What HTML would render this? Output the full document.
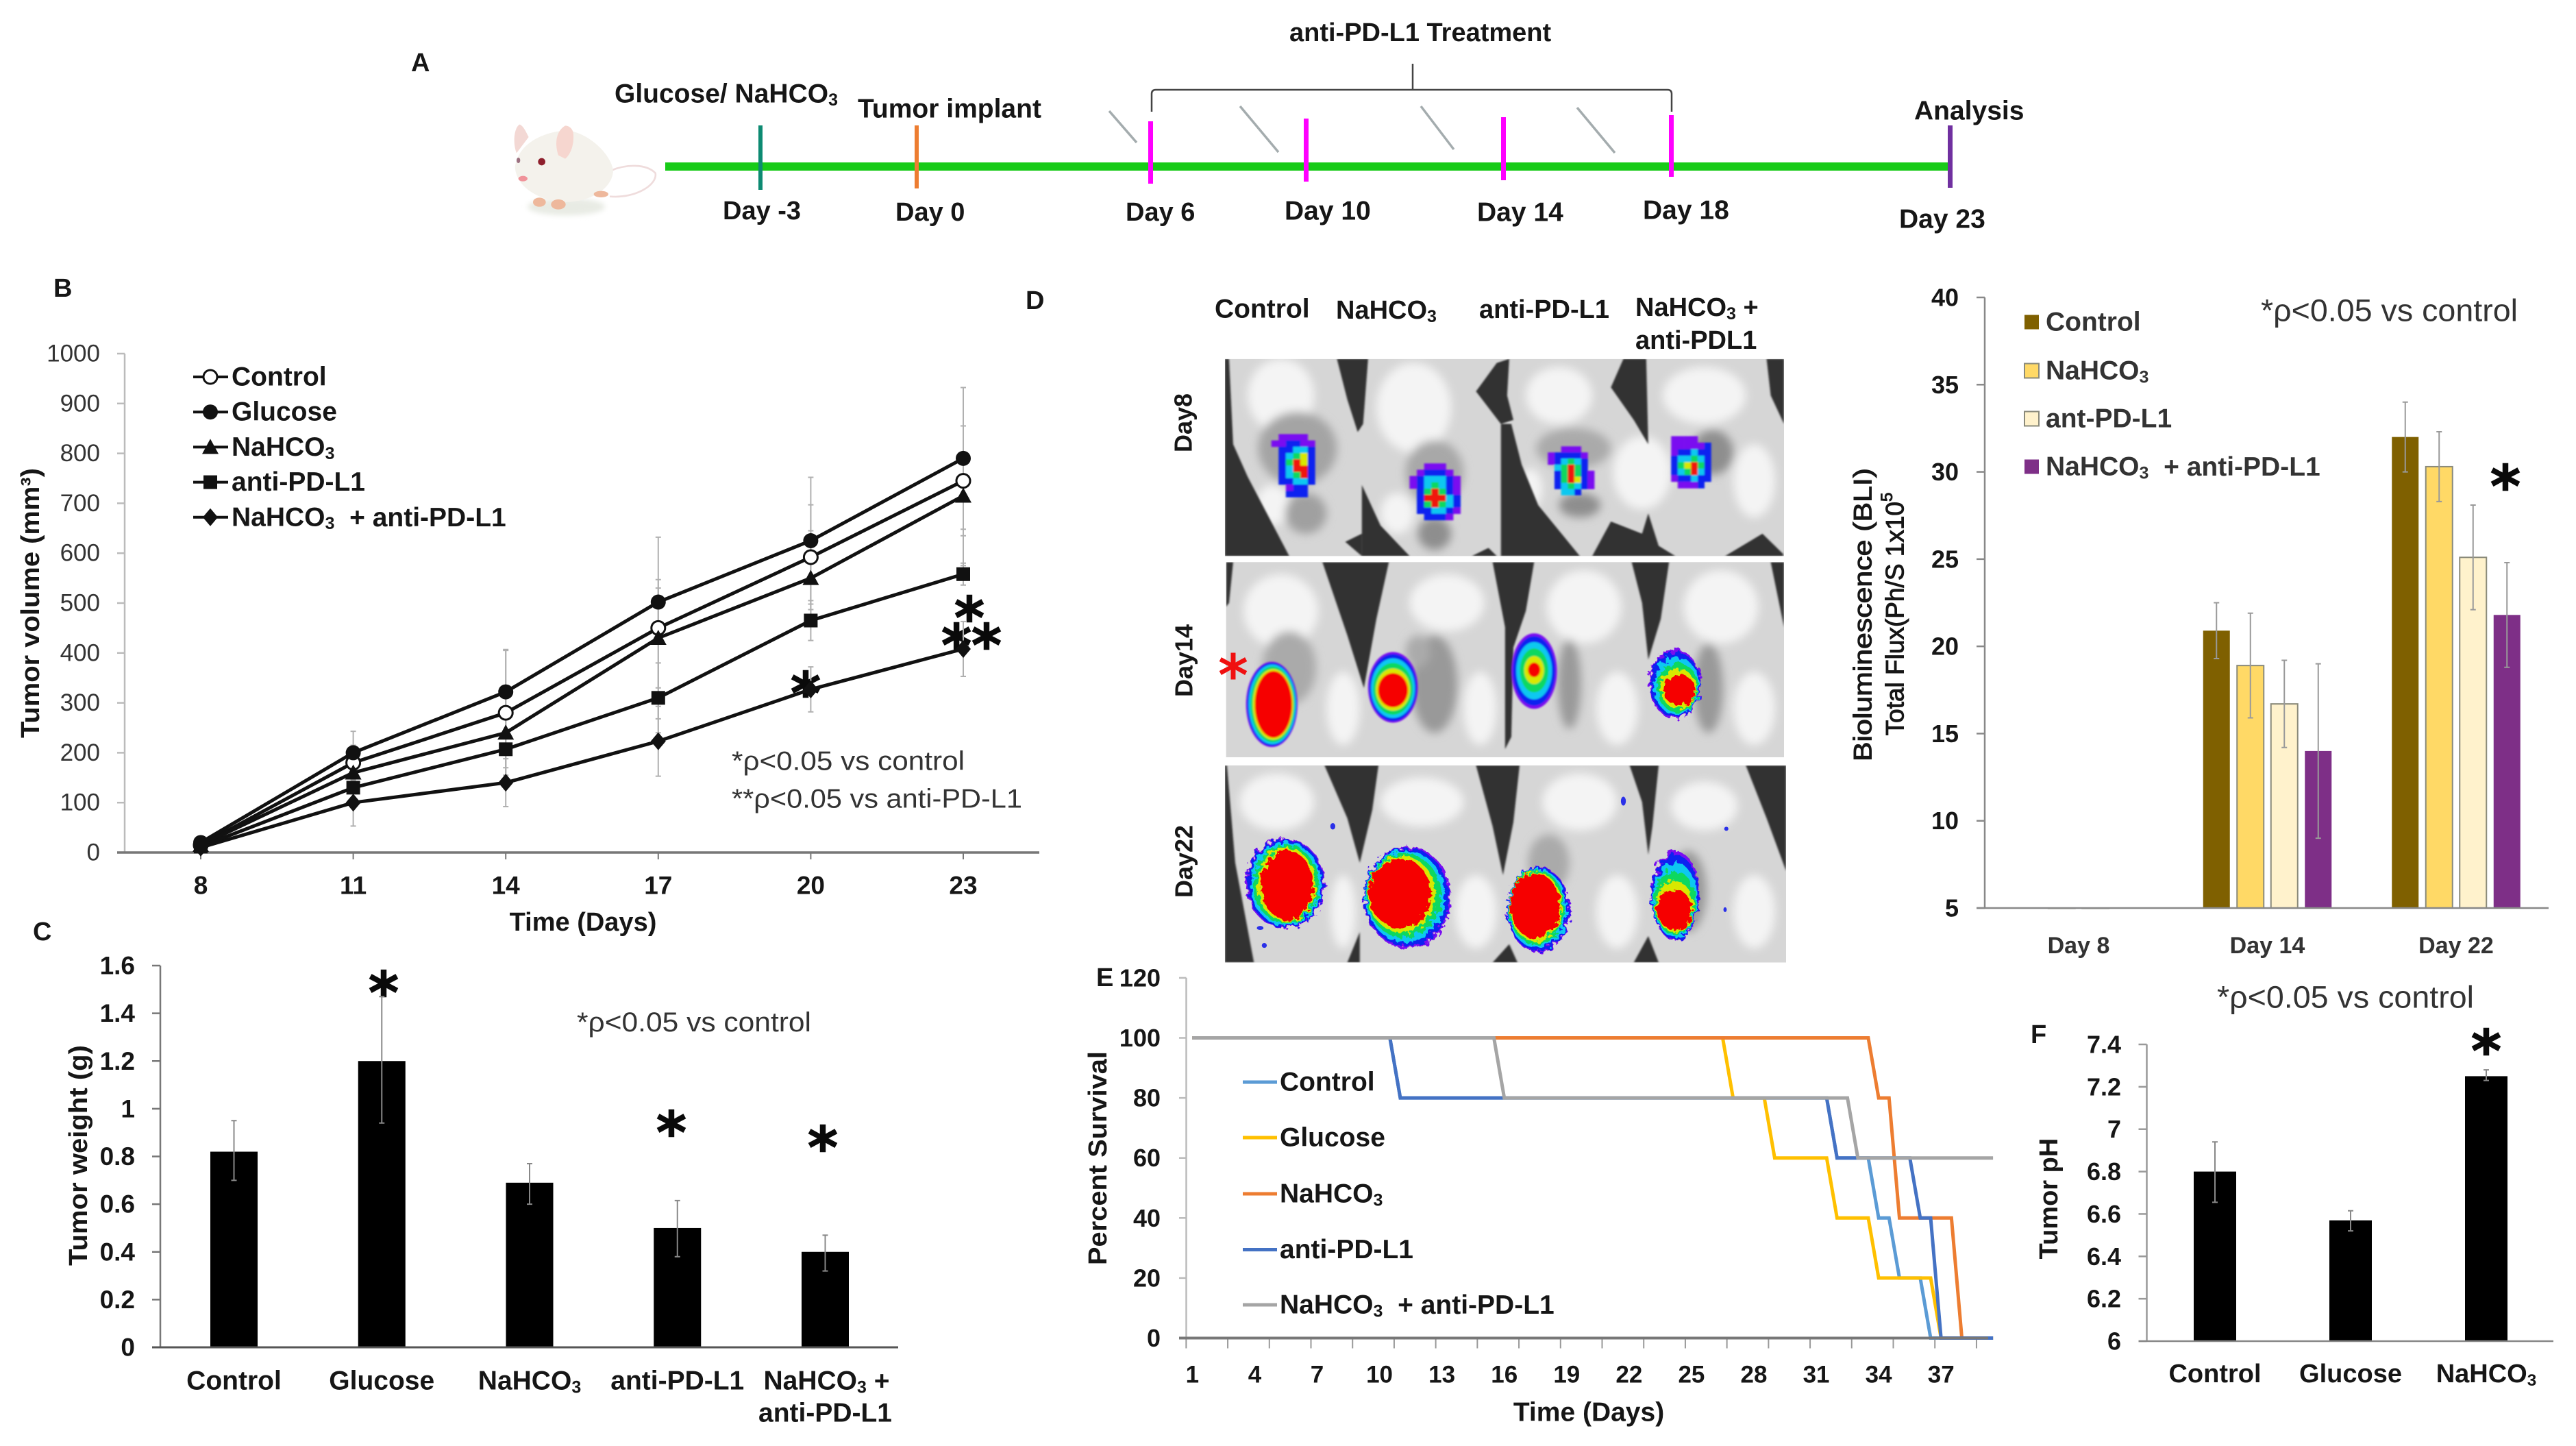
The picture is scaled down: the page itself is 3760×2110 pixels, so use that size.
<!DOCTYPE html>
<html lang="en">
<head>
<meta charset="utf-8">
<title>Tumor study figure</title>
<style>
html,body{margin:0;padding:0;background:#fff;width:3760px;height:2110px;overflow:hidden}
svg{display:block;font-family:"Liberation Sans",sans-serif}
text{dominant-baseline:central}
.b{font-weight:700;fill:#161616}
.n{fill:#333}
.star{font-family:"DejaVu Sans","Liberation Sans",sans-serif;font-weight:700;fill:#0a0a0a;stroke:#0a0a0a;stroke-width:1.5;font-size:84px;text-anchor:middle}
</style>
</head>
<body>
<svg id="fig" xmlns="http://www.w3.org/2000/svg" width="3760" height="2110" viewBox="0 0 3760 2110">
<defs>
<filter id="soft" x="-30%" y="-30%" width="160%" height="160%"><feGaussianBlur stdDeviation="11"/></filter>
<filter id="soft2" x="-20%" y="-20%" width="140%" height="140%"><feGaussianBlur stdDeviation="2"/></filter>
<filter id="rough" x="-20%" y="-20%" width="140%" height="140%"><feTurbulence type="fractalNoise" baseFrequency="0.07" numOctaves="3" seed="4"/><feDisplacementMap in="SourceGraphic" scale="26"/></filter>
<clipPath id="photoClip"><rect x="145" y="40" width="1347" height="485"/><rect x="148" y="540" width="1344" height="480"/><rect x="145" y="1040" width="1352" height="485"/></clipPath>
</defs>
<rect width="3760" height="2110" fill="#fff"/>

<g>
<text class="b" x="600" y="92" font-size="38">A</text>
<g transform="translate(680 130) scale(.3333)">
<ellipse cx="440" cy="515" rx="170" ry="38" fill="#e8ebe4" filter="url(#soft)"/>
<path d="M640 355C700 330 790 325 830 368C840 420 740 480 630 470" fill="none" stroke="#efdcdc" stroke-width="8"/>
<path d="M215 340C230 240 330 190 440 180C540 190 640 290 645 360C640 430 560 490 440 495C320 490 220 430 215 340Z" fill="#f4f2ec"/>
<path d="M235 155C210 170 205 240 222 280L275 210C260 180 250 160 235 155Z" fill="#f3d8d4"/>
<path d="M435 160C400 180 385 230 405 290L435 305C465 280 475 230 470 190C465 170 450 160 435 160Z" fill="#f6d6cf"/>
<ellipse cx="332" cy="318" rx="16" ry="16" fill="#8e1f2c"/>
<ellipse cx="230" cy="312" rx="8" ry="12" fill="#9c7080"/>
<ellipse cx="250" cy="392" rx="20" ry="12" fill="#f0939a"/>
<ellipse cx="322" cy="495" rx="28" ry="20" fill="#eeb89c"/>
<ellipse cx="405" cy="505" rx="32" ry="22" fill="#eeb89c"/>
<ellipse cx="592" cy="460" rx="32" ry="14" fill="#eeb89c"/>
</g>
<rect x="971" y="237" width="1873" height="12" fill="#18cb18"/>
<rect x="1107" y="183" width="6" height="94" fill="#0d8a72"/>
<rect x="1335" y="183" width="6" height="92" fill="#ed7d31"/>
<rect x="1676" y="177" width="7" height="91" fill="#f0f"/>
<rect x="1903" y="173" width="7" height="92" fill="#f0f"/>
<rect x="2191" y="171" width="7" height="92" fill="#f0f"/>
<rect x="2436" y="168" width="7" height="90" fill="#f0f"/>
<rect x="2843" y="183" width="7" height="91" fill="#7030a0"/>
<path d="M1681 163V137Q1681 131 1687 131H2434Q2440 131 2440 137V163M2062 131V93" fill="none" stroke="#444" stroke-width="2.5"/>
<g stroke="#a4acae" stroke-width="3.5" fill="none">
<path d="M1619 162L1659 208"/>
<path d="M1810 155L1866 222"/>
<path d="M2074 155L2122 218"/>
<path d="M2302 157L2357 223"/>
</g>
<text class="b" x="897" y="137" font-size="39">Glucose/ NaHCO<tspan dy="9" font-size="25">3</tspan></text>
<text class="b" x="1252" y="159" font-size="39">Tumor implant</text>
<text class="b" x="1882" y="48" font-size="38">anti-PD-L1  Treatment</text>
<text class="b" x="2794" y="162" font-size="39">Analysis</text>
<text class="b" x="1055" y="308" font-size="38">Day -3</text>
<text class="b" x="1307" y="310" font-size="38">Day 0</text>
<text class="b" x="1643" y="310" font-size="38">Day 6</text>
<text class="b" x="1875" y="308" font-size="39">Day 10</text>
<text class="b" x="2156" y="310" font-size="39">Day 14</text>
<text class="b" x="2398" y="307" font-size="39">Day 18</text>
<text class="b" x="2772" y="320" font-size="39">Day 23</text>
</g>

<g id="panelB">
<text class="b" x="78" y="421" font-size="38">B</text>
<text class="b" x="45" y="880" font-size="38" text-anchor="middle" textLength="394" lengthAdjust="spacingAndGlyphs" transform="rotate(-90 45 880)">Tumor volume (mm³)</text>
<text class="b" x="851" y="1346" font-size="38" text-anchor="middle">Time (Days)</text>
<text class="n" x="1068" y="1111" font-size="39" textLength="340" lengthAdjust="spacingAndGlyphs">*ρ&lt;0.05 vs control</text>
<text class="n" x="1068" y="1166" font-size="39" textLength="424" lengthAdjust="spacingAndGlyphs">**ρ&lt;0.05 vs anti-PD-L1</text>
<text class="star" x="1176" y="1012">*</text>
<text class="star" x="1415" y="902">*</text>
<text class="star" x="1418" y="942">**</text>
</g>

<g id="panelC">
<text class="b" x="48" y="1360" font-size="38">C</text>
<text class="b" x="115" y="1686" font-size="38" text-anchor="middle" textLength="322" lengthAdjust="spacingAndGlyphs" transform="rotate(-90 115 1686)">Tumor weight (g)</text>
<text class="n" x="842" y="1492" font-size="40" textLength="342" lengthAdjust="spacingAndGlyphs">*ρ&lt;0.05 vs control</text>
<text class="star" x="560" y="1449">*</text>
<text class="star" x="980" y="1653">*</text>
<text class="star" x="1201" y="1675">*</text>
</g>

<g>
<text class="b" x="1497" y="439" font-size="38">D</text>
<text class="b" x="1773" y="451" font-size="39">Control</text>
<text class="b" x="1950" y="453" font-size="38">NaHCO<tspan dy="9" font-size="25">3</tspan></text>
<text class="b" x="2159" y="452" font-size="38">anti-PD-L1</text>
<text class="b" x="2387" y="449" font-size="38">NaHCO<tspan dy="9" font-size="25">3</tspan><tspan dy="-9"> +</tspan></text>
<text class="b" x="2387" y="497" font-size="38">anti-PDL1</text>
<text class="b" x="1727" y="617" font-size="36" text-anchor="middle" transform="rotate(-90 1727 617)">Day8</text>
<text class="b" x="1728" y="964" font-size="36" text-anchor="middle" transform="rotate(-90 1728 964)">Day14</text>
<text class="b" x="1728" y="1257" font-size="36" text-anchor="middle" transform="rotate(-90 1728 1257)">Day22</text>
<g id="photos" transform="translate(1700 500) scale(.6059 .5931)" clip-path="url(#photoClip)"></g>
<text x="1800" y="986" font-size="84" text-anchor="middle" font-weight="700" fill="#f01010" style="font-family:'DejaVu Sans',sans-serif">*</text>
</g>

<g id="panelG">
<text class="b" x="2719" y="897" font-size="37" text-anchor="middle" textLength="428" lengthAdjust="spacingAndGlyphs" transform="rotate(-90 2719 897)" style="font-weight:400;stroke:#161616;stroke-width:1">Bioluminescence  (BLI)</text>
<text class="b" x="2766" y="896" font-size="37" text-anchor="middle" transform="rotate(-90 2766 896)" style="font-weight:400;stroke:#161616;stroke-width:1">Total Flux(Ph/S  1x10<tspan dy="-12" font-size="24">5</tspan></text>
<text class="n" x="3300" y="453" font-size="45" textLength="375" lengthAdjust="spacingAndGlyphs">*ρ&lt;0.05 vs control</text>
<text class="star" x="3657" y="710">*</text>
</g>

<g id="panelE">
<text class="b" x="1600" y="1427" font-size="38">E</text>
<text class="b" x="1603" y="1690" font-size="38" text-anchor="middle" textLength="312" lengthAdjust="spacingAndGlyphs" transform="rotate(-90 1603 1690)">Percent  Survival</text>
<text class="b" x="2319" y="2061" font-size="39" text-anchor="middle">Time (Days)</text>
</g>

<g id="panelF">
<text class="b" x="2964" y="1510" font-size="38">F</text>
<text class="b" x="2991" y="1749" font-size="38" text-anchor="middle" transform="rotate(-90 2991 1749)">Tumor pH</text>
<text class="n" x="3236" y="1455" font-size="45" textLength="375" lengthAdjust="spacingAndGlyphs">*ρ&lt;0.05 vs control</text>
<text class="star" x="3629" y="1534">*</text>
</g>
</svg>

<script>
/* ---------- Panel B data ---------- */
const bDays = [8, 11, 14, 17, 20, 23];
const bControl = [15, 180, 280, 450, 592, 745];
const bGlucose = [20, 200, 322, 502, 625, 790];
const bNahco3 = [15, 160, 240, 430, 550, 715];
const bAntiPd = [12, 130, 207, 310, 465, 558];
const bCombo = [10, 100, 140, 223, 327, 408];
const bControlErr = [5, 35, 125, 182, 105, 110];
const bGlucoseErr = [5, 43, 85, 45, 127, 142];
const bNahco3Err = [5, 35, 70, 100, 95, 140];
const bAntiPdErr = [4, 40, 60, 70, 40, 22];
const bComboErr = [3, 47, 48, 70, 45, 55];
const bTicks = ['0', '100', '200', '300', '400', '500', '600', '700', '800', '900', '1000'];
const bLegend = ['Control', 'Glucose', 'NaHCO3', 'anti-PD-L1', 'NaHCO3 \u00a0+ anti-PD-L1'];

/* ---------- Panel C data ---------- */
const cCategories = ['Control', 'Glucose', 'NaHCO3', 'anti-PD-L1', 'NaHCO3 +'];
const cValues = [0.82, 1.2, 0.69, 0.5, 0.4];
const cErrHigh = [0.95, 1.47, 0.77, 0.615, 0.47];
const cErrLow = [0.7, 0.94, 0.6, 0.38, 0.32];
const cTicks = ['0', '0.2', '0.4', '0.6', '0.8', '1', '1.2', '1.4', '1.6'];

/* ---------- BLI bar chart data ---------- */
const gDays = ['Day 8', 'Day 14', 'Day 22'];
const gSeries = ['Control', 'NaHCO3', 'ant-PD-L1', 'NaHCO3 \u00a0+ anti-PD-L1'];
const gControl = [5, 20.9, 32];
const gNahco3 = [5, 18.9, 30.3];
const gAntiPd = [5, 16.7, 25.1];
const gCombo = [5, 14, 21.8];
const gControlErr = [0, 1.6, 2];
const gNahco3Err = [0, 3, 2];
const gAntiPdErr = [0, 2.5, 3];
const gComboErr = [0, 5, 3];
const gTicks = ['5', '10', '15', '20', '25', '30', '35', '40'];

/* ---------- Panel E data ---------- */
const eTicks = ['0', '20', '40', '60', '80', '100', '120'];
const eDayLabels = ['1', '4', '7', '10', '13', '16', '19', '22', '25', '28', '31', '34', '37'];
const eNames = ['Control', 'Glucose', 'NaHCO3', 'anti-PD-L1', 'NaHCO3 \u00a0+ anti-PD-L1'];
const eControlDays = [1, 10.5, 11, 31.5, 32, 33.5, 34, 34.5, 35, 36, 36.5, 39.5];
const eControlVals = [100, 100, 80, 80, 60, 60, 40, 40, 20, 20, 0, 0];
const eGlucoseDays = [1, 26.5, 27, 28.5, 29, 31.5, 32, 33.5, 34, 36.5, 37, 39.5];
const eGlucoseVals = [100, 100, 80, 80, 60, 60, 40, 40, 20, 20, 0, 0];
const eNahco3Days = [1, 33.5, 34, 34.5, 35, 37.5, 38, 39.5];
const eNahco3Vals = [100, 100, 80, 80, 40, 40, 0, 0];
const eAntiPdDays = [1, 10.5, 11, 31.5, 32, 35.5, 36, 36.5, 37, 39.5];
const eAntiPdVals = [100, 100, 80, 80, 60, 60, 40, 40, 0, 0];
const eComboDays = [1, 15.5, 16, 32.5, 33, 39.5];
const eComboVals = [100, 100, 80, 80, 60, 60];

/* ---------- Panel F data ---------- */
const fCategories = ['Control', 'Glucose', 'NaHCO3'];
const fValues = [6.8, 6.57, 7.25];
const fErrHigh = [6.94, 6.615, 7.28];
const fErrLow = [6.655, 6.52, 7.23];
const fTicks = ['6', '6.2', '6.4', '6.6', '6.8', '7', '7.2', '7.4'];

const NS = 'http://www.w3.org/2000/svg';
function make(tag, attrs, parent) {
  const n = document.createElementNS(NS, tag);
  for (const k in attrs) n.setAttribute(k, attrs[k]);
  parent.appendChild(n);
  return n;
}
function label(node, s) {
  const i = s.indexOf('CO3');
  if (i < 0) { node.textContent = s; return; }
  node.appendChild(document.createTextNode(s.slice(0, i + 2)));
  const size = parseFloat(node.getAttribute('font-size'));
  const sub = make('tspan', {dy: size * 0.24, 'font-size': size * 0.64}, node);
  sub.textContent = '3';
  const rest = s.slice(i + 3);
  if (rest) {
    const t = make('tspan', {dy: -size * 0.24}, node);
    t.textContent = rest;
  }
}
function yAxis(parent, prefix, ticks, yFn, axisX, tickX, labelX, size, cls, color) {
  const axis = make('line', {x1: axisX, x2: axisX, y1: yFn(parseFloat(ticks[ticks.length - 1])), y2: yFn(parseFloat(ticks[0])), stroke: color, 'stroke-width': 2.5}, parent);
  
  
  ticks.forEach(function (t) {
    const v = parseFloat(t);
    const tick = make('line', {x1: tickX, x2: axisX, y1: yFn(v), y2: yFn(v), stroke: color, 'stroke-width': 2.5}, parent);
    
    
    const lab = make('text', {x: labelX, y: yFn(v), 'font-size': size, 'text-anchor': 'end', class: cls}, parent);
    
    
    lab.textContent = t;
  });
}
function xLine(parent, prefix, x1, x2, y, color, w) {
  const axis = make('line', {x1: x1, x2: x2, y1: y, y2: y, stroke: color, 'stroke-width': w}, parent);
  
  
}
function errorBar(parent, name, x, yHi, yLo, color) {
  const g = make('path', {d: 'M' + (x - 4) + ' ' + yHi + 'H' + (x + 4) + 'M' + x + ' ' + yHi + 'V' + yLo + 'M' + (x - 4) + ' ' + yLo + 'H' + (x + 4), fill: 'none', stroke: color, 'stroke-width': 2}, parent);
  
  
}
function bar(parent, name, x, w, yTop, yBase, fill, stroke) {
  const r = make('rect', {x: x, y: yTop, width: w, height: Math.max(yBase - yTop, 0.5), fill: fill, stroke: stroke || 'none', 'stroke-width': stroke ? 2 : 0}, parent);
  
  
}

/* ---------- Panel B ---------- */
(function () {
  const p = document.getElementById('panelB');
  const x = function (d) { return 293 + (d - 8) * (1406 - 293) / 15; };
  const y = function (v) { return 1244 - v * 0.728; };
  yAxis(p, 'volume', bTicks, y, 182, 171, 146, 35, 'n', '#bbb');
  xLine(p, 'volume', 171, 1517, y(0), '#777', 3.5);
  bDays.forEach(function (d) {
    const t = make('line', {x1: x(d), x2: x(d), y1: y(0), y2: y(0) + 10, stroke: '#777', 'stroke-width': 2}, p);
    
    
    const lab = make('text', {x: x(d), y: 1292, 'font-size': 37, 'text-anchor': 'middle', class: 'b'}, p);
    
    
    lab.textContent = d;
  });
  const all = [bControl, bGlucose, bNahco3, bAntiPd, bCombo];
  const errs = [bControlErr, bGlucoseErr, bNahco3Err, bAntiPdErr, bComboErr];
  const shapes = ['circle-open', 'circle', 'triangle', 'square', 'diamond'];
  const drawMarker = function (shape, cx, cy, name) {
    let m;
    if (shape === 'circle-open') m = make('circle', {cx: cx, cy: cy, r: 10, fill: '#fff', stroke: '#111', 'stroke-width': 3}, p);
    else if (shape === 'circle') m = make('circle', {cx: cx, cy: cy, r: 11, fill: '#111'}, p);
    else if (shape === 'triangle') m = make('path', {d: 'M' + cx + ' ' + (cy - 12) + 'l12 22h-24z', fill: '#111'}, p);
    else if (shape === 'square') m = make('rect', {x: cx - 10, y: cy - 10, width: 20, height: 20, fill: '#111'}, p);
    else m = make('path', {d: 'M' + cx + ' ' + (cy - 13) + 'l11 13l-11 13l-11-13z', fill: '#111'}, p);
    
    
  };
  all.forEach(function (vals, s) {
    vals.forEach(function (v, i) {
      errorBar(p, 'volume-error-' + s + '-' + bDays[i], x(bDays[i]), y(v + errs[s][i]), y(v - errs[s][i]), '#b0b0b0');
    });
  });
  all.forEach(function (vals, s) {
    const d = vals.map(function (v, i) { return (i ? 'L' : 'M') + x(bDays[i]) + ' ' + y(v); }).join('');
    const line = make('path', {d: d, fill: 'none', stroke: '#111', 'stroke-width': 5}, p);
    
    
    vals.forEach(function (v, i) {
      drawMarker(shapes[s], x(bDays[i]), y(v), 'volume-point-' + shapes[s] + '-' + bDays[i]);
    });
  });
  bLegend.forEach(function (name, i) {
    const ly = 550 + i * 51.2;
    const l = make('line', {x1: 282, x2: 333, y1: ly, y2: ly, stroke: '#111', 'stroke-width': 4}, p);
    
    
    drawMarker(shapes[i], 307, ly, 'legend-marker-b-' + i);
    const t = make('text', {x: 338, y: ly, 'font-size': 39, class: 'b'}, p);
    
    
    label(t, name);
  });
})();

/* ---------- Panel C ---------- */
(function () {
  const p = document.getElementById('panelC');
  const x = function (i) { return 341.5 + i * 215.75; };
  const y = function (v) { return 1966 - v * (1966 - 1409) / 1.6; };
  yAxis(p, 'weight', cTicks, y, 234, 222, 197, 37, 'b', '#777');
  cCategories.forEach(function (c, i) {
    bar(p, 'weight-bar-' + i, x(i) - 34.5, 69, y(cValues[i]), y(0), '#000');
    errorBar(p, 'weight-error-' + i, x(i), y(cErrHigh[i]), y(cErrLow[i]), '#888');
    const t = make('text', {x: x(i) + (i === 4 ? 2 : 0), y: 2015, 'font-size': 39, 'text-anchor': 'middle', class: 'b'}, p);
    
    
    label(t, c);
  });
  const second = make('text', {x: x(4), y: 2062, 'font-size': 39, 'text-anchor': 'middle', class: 'b'}, p);
  
  
  second.textContent = 'anti-PD-L1';
  xLine(p, 'weight', 222, 1311, y(0), '#555', 3);
})();

/* ---------- BLI bars ---------- */
(function () {
  const p = document.getElementById('panelG');
  const y = function (v) { return 1325 - (v - 5) * (1325 - 434) / 35; };
  const groupX = function (i) { return 3034 + i * 275.5; };
  const vals = [gControl, gNahco3, gAntiPd, gCombo];
  const errs = [gControlErr, gNahco3Err, gAntiPdErr, gComboErr];
  const fills = ['#7f6000', '#ffd966', '#fff2cc', '#7e2f87'];
  const strokes = [null, '#8a8a7a', '#8a8a7a', null];
  yAxis(p, 'bli', gTicks, y, 2897, 2885, 2859, 36, 'b', '#888');
  vals.forEach(function (series, s) {
    series.forEach(function (v, g) {
      const cx = groupX(g) + (s - 1.5) * 49.5;
      bar(p, 'bli-bar-' + s + '-' + g, cx - 19.5, 39, y(v), y(5), fills[s], strokes[s]);
      if (errs[s][g] > 0) {
        errorBar(p, 'bli-error-' + s + '-' + g, cx, y(v + errs[s][g]), y(v - errs[s][g]), '#999');
      }
    });
  });
  xLine(p, 'bli', 2885, 3720, y(5), '#888', 2.5);
  gDays.forEach(function (d, i) {
    const t = make('text', {x: groupX(i), y: 1380, 'font-size': 34, 'text-anchor': 'middle', class: 'b'}, p);
    
    
    t.setAttribute('style', 'fill:#333');
    t.textContent = d;
  });
  const legendY = [470, 541, 611, 681];
  gSeries.forEach(function (name, i) {
    const s = make('rect', {x: 2955, y: legendY[i] - 10.5, width: 21, height: 21, fill: fills[i], stroke: strokes[i] || 'none', 'stroke-width': 2}, p);
    
    
    const t = make('text', {x: 2986, y: legendY[i], 'font-size': 39, class: 'b'}, p);
    
    
    t.setAttribute('style', 'fill:#333');
    label(t, name);
  });
})();

/* ---------- Panel E ---------- */
(function () {
  const p = document.getElementById('panelE');
  const x = function (d) { return 1560 + (202 + 34 * (d - 1)) / 1.12; };
  const y = function (v) { return 1952.5 - v * 4.38; };
  yAxis(p, 'survival', eTicks, y, 1731.5, 1721, 1694, 36, 'b', '#bbb');
  for (let d = 1; d <= 39; d += 2) {
    const t = make('line', {x1: x(d) - 9, x2: x(d) - 9, y1: y(0), y2: y(0) + 15, stroke: '#999', 'stroke-width': 2}, p);
    
    
  }
  eDayLabels.forEach(function (d) {
    const t = make('text', {x: x(parseFloat(d)), y: 2006, 'font-size': 35, 'text-anchor': 'middle', class: 'b'}, p);
    
    
    t.textContent = d;
  });
  const days = [eControlDays, eGlucoseDays, eNahco3Days, eAntiPdDays, eComboDays];
  const vals = [eControlVals, eGlucoseVals, eNahco3Vals, eAntiPdVals, eComboVals];
  const colors = ['#5b9bd5', '#ffc000', '#ed7d31', '#4472c4', '#a5a5a5'];
  const legendY = [1579, 1660, 1742, 1823.5, 1904];
  days.forEach(function (ds, s) {
    const d = ds.map(function (dv, i) { return (i ? 'L' : 'M') + x(dv) + ' ' + y(vals[s][i]); }).join('');
    const line = make('path', {d: d, fill: 'none', stroke: colors[s], 'stroke-width': 5}, p);
    
    
  });
  xLine(p, 'survival', 1721, 2902, y(0), '#777', 4);
  eNames.forEach(function (name, i) {
    const l = make('line', {x1: 1814, x2: 1864, y1: legendY[i], y2: legendY[i], stroke: colors[i], 'stroke-width': 5}, p);
    
    
    const t = make('text', {x: 1868, y: legendY[i], 'font-size': 39, class: 'b'}, p);
    
    
    label(t, name);
  });
})();

/* ---------- Panel F ---------- */
(function () {
  const p = document.getElementById('panelF');
  const x = function (i) { return 3233 + i * 198; };
  const y = function (v) { return 1957 - (v - 6) * (1957 - 1524) / 1.4; };
  yAxis(p, 'ph', fTicks, y, 3133.5, 3121.5, 3096, 36, 'b', '#999');
  fCategories.forEach(function (c, i) {
    bar(p, 'ph-bar-' + i, x(i) - 31, 62, y(fValues[i]), y(6), '#000');
    errorBar(p, 'ph-error-' + i, x(i), y(fErrHigh[i]), y(fErrLow[i]), '#888');
    const t = make('text', {x: x(i), y: 2005, 'font-size': 38, 'text-anchor': 'middle', class: 'b'}, p);
    
    
    label(t, c);
  });
  xLine(p, 'ph', 3121.5, 3727, y(6), '#888', 2.5);
})();

/* ---------- Panel D photographs (illustrative, in local crop coordinates) ---------- */
(function () {
  const root = document.getElementById('photos');
  const base = make('rect', {x: 145, y: 40, width: 1352, height: 1485, fill: '#d6d6d6'}, root);
  
  
  const soft = make('g', {filter: 'url(#soft)'}, root);
  
  
  const lights = [[280,130,80,90],[600,160,90,110],[950,130,80,70],[1300,130,100,70],[260,400,40,50],[560,420,40,50],[880,360,30,50],[1150,320,70,90],[1420,340,50,90],
    [280,660,90,90],[430,900,40,90],[680,640,90,70],[760,900,40,90],[1010,650,90,90],[1090,900,50,90],[1340,650,90,90],[1420,900,50,90],
    [270,1130,90,70],[430,1400,30,90],[620,1130,100,60],[750,1400,50,90],[1000,1130,90,70],[1090,1400,50,90],[1300,1140,80,60],[1420,1400,50,90]];
  lights.forEach(function (a, i) {
    const e = make('ellipse', {cx: a[0], cy: a[1], rx: a[2], ry: a[3], fill: '#f4f4f4'}, soft);
    
    
  });
  const patches = [[320,260,95,90,'#a4a4a4'],[340,420,50,50,'#a0a0a0'],[650,320,70,80,'#a8a8a8'],[650,470,40,40,'#8e8e8e'],[985,260,90,50,'#aaa'],[1000,400,50,30,'#8e8e8e'],[1320,270,50,55,'#8e8e8e'],
    [300,800,65,90,'#aaa'],[650,840,55,120,'#999'],[610,760,30,40,'#aaa'],[975,840,28,110,'#9a9a9a'],[1310,850,35,110,'#999'],
    [925,1280,50,70,'#aaa'],[1260,1350,45,100,'#999']];
  patches.forEach(function (a, i) {
    const e = make('ellipse', {cx: a[0], cy: a[1], rx: a[2], ry: a[3], fill: a[4]}, soft);
    
    
  });
  const sharp = make('g', {filter: 'url(#soft2)'}, root);
  
  
  const darks = ['145,40 155,40 165,250 200,330 300,525 145,525','415,40 490,40 478,200 465,220 440,140','475,350 520,450 590,525 475,525','435,490 475,470 475,525','740,525 780,505 800,525',
    '750,120 800,50 830,40 825,130 840,190 810,200','810,200 835,200 860,300 900,400 1000,525 810,525','1075,110 1105,40 1160,40 1165,250 1130,190','1030,525 1075,440 1150,470 1165,420 1190,500 1230,525','1350,525 1440,470 1490,520 1490,525','1450,40 1492,40 1492,200 1460,130',
    '148,540 165,540 155,640 148,650','380,540 540,540 510,680 480,850 440,720','790,540 890,540 870,660 840,750 835,970 820,1000 820,700 805,620','1125,540 1215,540 1195,680 1165,780 1150,640','1460,540 1492,540 1492,700',
    '145,1040 150,1040 170,1280 215,1525 145,1525','385,1040 515,1040 500,1150 470,1280 440,1170','750,1040 855,1040 840,1180 815,1310 790,1190','1120,1040 1190,1040 1175,1190 1165,1260 1150,1130','1400,1040 1497,1040 1497,1300 1450,1170','440,1525 470,1450 470,1525','790,1525 830,1480 850,1525','1130,1525 1165,1460 1190,1525'];
  darks.forEach(function (pts, i) {
    const d = make('polygon', {points: pts, fill: '#303030'}, sharp);
    
    
  });
  const palette = {P: '#7a10f0', B: '#0a20f0', C: '#10c8f0', G: '#10d860', Y: '#d8e800', R: '#f01808'};
  const pixels = [
    [257, 225, 17.5, 15.5, ['.PPPP.', 'PPBBPP', '.BBCCB', '.BCGYB', '.BGRYB', '.BCRRB', '.BCGRB', '.BBCCB', '..PBB.', '..BBB.']],
    [590, 297, 17.5, 15.5, ['..PPP..', '.PBBBP.', 'PBCCCBP', 'PBCGCBP', '.BGRGBP', '.BRRRCB', '.BGRGCB', '.BBCCBP', '..BBBP.']],
    [923, 255, 16, 15, ['..PPP.', 'PBBBBP', 'PBCGCB', '.CGRGB', '.BGRGBP', '.BGRYBP', '.BCGCBP', '..CCB.']],
    [1220, 230, 16, 16, ['PPPP..', 'PPPPPB', 'PBBCBB', 'BCCGCB', 'BGYRGB', 'BCGRCB', 'PBBCBB', '.PPPB.']]
  ];
  pixels.forEach(function (blob, b) {
    const g = make('g', {filter: 'url(#soft2)'}, root);
    
    
    blob[4].forEach(function (row, r) {
      row.split('').forEach(function (ch, c) {
        if (ch === '.') return;
        make('rect', {x: blob[0] + c * blob[2], y: blob[1] + r * blob[3], width: blob[2] + 0.5, height: blob[3] + 0.5, fill: palette[ch]}, g);
      });
    });
  });
  const layers = [['#7a10f0', 0], ['#0a20f0', 0.1], ['#10c8f0', 0.3], ['#10d860', 0.52], ['#d8e800', 0.78], ['#f60000', 1]];
  const heat = [
    [258, 890, 62, 105, 262, 890, 45, 82, 0],
    [550, 848, 60, 87, 550, 855, 36, 42, 0],
    [890, 808, 55, 93, 890, 805, 15, 18, 0],
    [1230, 840, 62, 85, 1240, 855, 38, 38, 1],
    [290, 1330, 95, 110, 295, 1335, 63, 85, 1],
    [585, 1365, 105, 125, 567, 1355, 75, 85, 1],
    [900, 1395, 75, 105, 892, 1385, 60, 80, 1],
    [1230, 1360, 58, 110, 1228, 1395, 42, 50, 1]
  ];
  heat.forEach(function (h, i) {
    const g = make('g', h[8] ? {filter: 'url(#rough)'} : {filter: 'url(#soft2)'}, root);
    
    
    layers.forEach(function (l) {
      make('ellipse', {cx: h[0] + (h[4] - h[0]) * l[1], cy: h[1] + (h[5] - h[1]) * l[1], rx: h[2] + (h[6] - h[2]) * l[1], ry: h[3] + (h[7] - h[3]) * l[1], fill: l[0]}, g);
    });
  });
  const dots = [[405, 1190, 6, 8], [1105, 1128, 6, 11], [1353, 1196, 5, 5], [240, 1483, 6, 6], [1350, 1395, 4, 6], [230, 1440, 8, 5]];
  dots.forEach(function (a, i) {
    const e = make('ellipse', {cx: a[0], cy: a[1], rx: a[2], ry: a[3], fill: '#2a30e8'}, root);
    
    
  });
})();
</script>
</body>
</html>
